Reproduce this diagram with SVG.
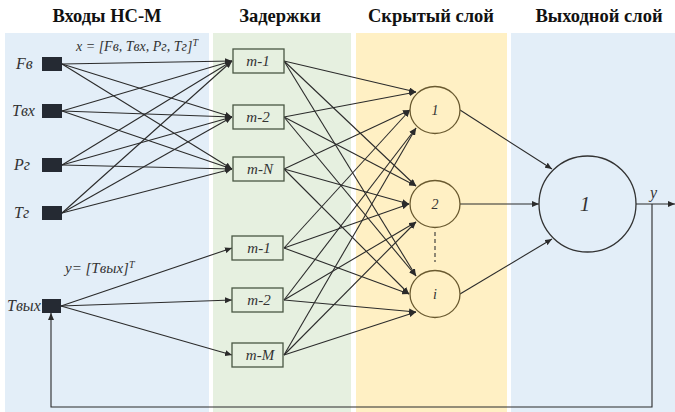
<svg xmlns="http://www.w3.org/2000/svg" width="675" height="412" viewBox="0 0 675 412">
<defs>
<marker id="ah" markerUnits="userSpaceOnUse" markerWidth="8" markerHeight="6" refX="7" refY="3" orient="auto">
<path d="M0,0 L7,3 L0,6 z" fill="#2b2b2b"/>
</marker>
<style>
.title{font-weight:bold;font-size:18.5px;fill:#111;text-anchor:middle}
.lab{font-style:italic;font-size:16px;fill:#333}
.frm{font-style:italic;font-size:14px;fill:#333}
.bl{font-style:italic;font-size:15px;fill:#333;text-anchor:middle}
.sq{fill:#252a33}
.box{fill:#e6f0e0;stroke:#4a5744;stroke-width:1.3}
.hid{fill:#fff0c4;stroke:#6a5a30;stroke-width:1.3}
.out{fill:#e3eef8;stroke:#333;stroke-width:1.3}
.c{stroke:#2b2b2b;stroke-width:1.1;fill:none;marker-end:url(#ah)}
</style>
</defs>
<g font-family="'Liberation Serif', serif">
<rect width="675" height="412" fill="#fff"/>
<rect x="5" y="33" width="204" height="379" fill="#e3eef8"/>
<rect x="213" y="33" width="138" height="379" fill="#e6f0e0"/>
<rect x="356" y="33" width="151" height="379" fill="#fff0c4"/>
<rect x="511" y="33" width="164" height="379" fill="#e3eef8"/>
<text class="title" x="107" y="22">Входы НС-М</text>
<text class="title" x="280" y="22">Задержки</text>
<text class="title" x="431" y="22">Скрытый слой</text>
<text class="title" x="599" y="22">Выходной слой</text>
<text class="frm" x="76" y="51">x = [Fв, Tвх, Pг, Tг]<tspan style="font-size:10px" dy="-5">T</tspan></text>
<text class="frm" x="65" y="273" style="font-size:15px">y= [Tвых]<tspan style="font-size:10px" dy="-5">T</tspan></text>
<g id="connectors">
<path class="c" d="M62,64 L232,61"/><path class="c" d="M62,64 L232,117"/><path class="c" d="M62,64 L232,169"/>
<path class="c" d="M62,111 L232,61"/><path class="c" d="M62,111 L232,117"/><path class="c" d="M62,111 L232,169"/>
<path class="c" d="M62,165 L232,61"/><path class="c" d="M62,165 L232,117"/><path class="c" d="M62,165 L232,169"/>
<path class="c" d="M62,213 L232,61"/><path class="c" d="M62,213 L232,117"/><path class="c" d="M62,213 L232,169"/>
<path class="c" d="M61,306 L232,248"/><path class="c" d="M61,306 L232,300"/><path class="c" d="M61,306 L232,355"/>
<path class="c" d="M284,61 L416,92"/><path class="c" d="M284,61 L416,186"/><path class="c" d="M284,61 L416,276"/>
<path class="c" d="M284,117 L416,92"/><path class="c" d="M284,117 L416,186"/><path class="c" d="M284,117 L416,276"/>
<path class="c" d="M284,169 L410,110"/><path class="c" d="M284,169 L409,204"/><path class="c" d="M284,169 L409,294"/>
<path class="c" d="M284,248 L410,110"/><path class="c" d="M284,248 L409,204"/><path class="c" d="M284,248 L409,294"/>
<path class="c" d="M284,300 L416,128"/><path class="c" d="M284,300 L416,222"/><path class="c" d="M284,300 L416,312"/>
<path class="c" d="M284,355 L416,128"/><path class="c" d="M284,355 L416,222"/><path class="c" d="M284,355 L416,312"/>
<path class="c" d="M460,110 L552,169"/>
<path class="c" d="M460,204 L539,204"/>
<path class="c" d="M460,294 L552,239"/>
<path class="c" d="M636,204 L675,204"/>
<path class="c" d="M652,204 L652,407 L51,407 L51,313"/>
<line x1="435" y1="232" x2="435" y2="262" stroke="#333" stroke-width="1.1" stroke-dasharray="4,3"/>
</g>
<g id="in-fv"><text class="lab" x="16" y="69">Fв</text><rect class="sq" x="42" y="57" width="20" height="14"/></g>
<g id="in-tvx"><text class="lab" x="12" y="116">Tвх</text><rect class="sq" x="42" y="104" width="20" height="14"/></g>
<g id="in-pg"><text class="lab" x="14" y="170">Pг</text><rect class="sq" x="42" y="158" width="20" height="14"/></g>
<g id="in-tg"><text class="lab" x="14" y="218">Tг</text><rect class="sq" x="42" y="206" width="20" height="14"/></g>
<g id="in-tvyx"><text class="lab" x="7" y="311">Tвых</text><rect class="sq" x="42" y="299" width="19" height="14"/></g>
<g id="d1"><rect class="box" x="233" y="49" width="51" height="24"/><text class="bl" x="258" y="66">m-1</text></g>
<g id="d2"><rect class="box" x="233" y="105" width="51" height="24"/><text class="bl" x="258" y="122">m-2</text></g>
<g id="dN"><rect class="box" x="233" y="157" width="51" height="24"/><text class="bl" x="260" y="174">m-N</text></g>
<g id="e1"><rect class="box" x="232" y="236" width="51" height="24"/><text class="bl" x="259" y="253">m-1</text></g>
<g id="e2"><rect class="box" x="232" y="288" width="51" height="24"/><text class="bl" x="259" y="305">m-2</text></g>
<g id="eM"><rect class="box" x="232" y="343" width="51" height="24"/><text class="bl" x="260" y="360">m-M</text></g>
<g id="h1"><ellipse class="hid" cx="435" cy="110" rx="25" ry="23.5"/><text class="bl" x="435" y="115" style="font-size:14px">1</text></g>
<g id="h2"><ellipse class="hid" cx="435" cy="204" rx="25" ry="23.5"/><text class="bl" x="435" y="209" style="font-size:14px">2</text></g>
<g id="hi"><ellipse class="hid" cx="435" cy="294" rx="25" ry="23.5"/><text class="bl" x="435" y="299" style="font-size:14px">i</text></g>
<g id="o1"><ellipse class="out" cx="587.5" cy="204" rx="48.5" ry="48"/><text class="bl" x="585" y="211" style="font-size:21px">1</text></g>
<text class="lab" x="650" y="198">y</text>
</g>
</svg>
